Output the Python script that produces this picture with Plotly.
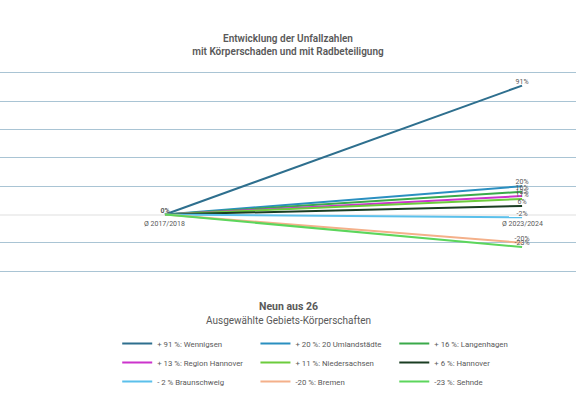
import plotly.graph_objects as go

# Zeitraeume (Kategorien) und Veraenderung gegenueber 2017/2018 in %
periods = ["Ø 2017/2018", "Ø 2023/2024"]
names = ["+ 91 %: Wennigsen", "+ 20 %: 20 Umlandstädte", "+ 16 %: Langenhagen",
         "+ 13 %: Region Hannover", "+ 11 %: Niedersachsen", "+ 6 %: Hannover",
         "- 2 % Braunschweig", "-20 %: Bremen", "-23 %: Sehnde"]
start_vals = [0, 0, 0, 0, 0, 0, 0, 0, 0]
end_vals = [91, 20, 16, 13, 11, 6, -2, -20, -23]
colors = ["#2e6f8e", "#2a8fc0", "#3aaa4a", "#cc33cc", "#6ccc3c",
          "#1a3d22", "#5bc0eb", "#f4b08a", "#5cd65c"]

grey = "#595959"
fnt = "Roboto"
legends = ["legend", "legend2", "legend3"]

fig = go.Figure()
for i in range(len(names)):
    vals = [start_vals[i], end_vals[i]]
    labels = ["<b>0%</b>" if i == 0 else "", f"{end_vals[i]}%"]
    fig.add_trace(go.Scatter(
        x=[0, 1], y=vals, name=names[i], mode="lines+text",
        text=labels, textposition="top center",
        textfont=dict(size=7, color=grey, family=fnt),
        line=dict(color=colors[i], width=2),
        legend=legends[i % 3], legendgroup=str(i),
        cliponaxis=False))

# Kategorie-Beschriftungen an der Nulllinie
for k, p in enumerate(periods):
    fig.add_annotation(x=k, y=0, text=p, showarrow=False, yanchor="top",
                       yshift=-3, font=dict(size=7, color=grey, family=fnt))

fig.add_annotation(x=0.5, xref="paper", y=-0.157, yref="paper", yanchor="middle",
                   text="<b>Neun aus 26</b>", showarrow=False,
                   font=dict(size=10.5, color=grey, family=fnt))
fig.add_annotation(x=0.5, xref="paper", y=-0.230, yref="paper", yanchor="middle",
                   text="Ausgewählte Gebiets-Körperschaften", showarrow=False,
                   font=dict(size=10, color=grey, family=fnt))

leg_style = dict(orientation="v", y=-0.27, yanchor="top", tracegroupgap=0,
                 bgcolor="rgba(0,0,0,0)",
                 font=dict(size=7.8, color=grey, family=fnt))

fig.update_layout(
    width=576, height=418,
    margin=dict(l=0, r=0, t=70, b=144, autoexpand=False),
    paper_bgcolor="white", plot_bgcolor="white",
    title=dict(text="Entwicklung der Unfallzahlen<br>mit Körperschaden und mit Radbeteiligung",
               x=0.5, y=0.900, xanchor="center", yanchor="middle",
               font=dict(size=10, color=grey, family=fnt, weight=600)),
    xaxis=dict(range=[-0.462, 1.151], showgrid=False, zeroline=False,
               showticklabels=False, fixedrange=True),
    yaxis=dict(range=[-42, 102], tickvals=[-40, -20, 0, 20, 40, 60, 80, 100],
               showgrid=True, gridcolor="#a9c4d4",
               gridwidth=1, zeroline=True, zerolinecolor="#efefef", zerolinewidth=2,
               showticklabels=False, fixedrange=True),
    showlegend=True,
    legend=dict(x=0.2035, **leg_style),
    legend2=dict(x=0.4435, **leg_style),
    legend3=dict(x=0.6845, **leg_style),
)

fig.write_html("out.html", config={"displayModeBar": False},
               post_script="document.body.style.margin='0px';")
